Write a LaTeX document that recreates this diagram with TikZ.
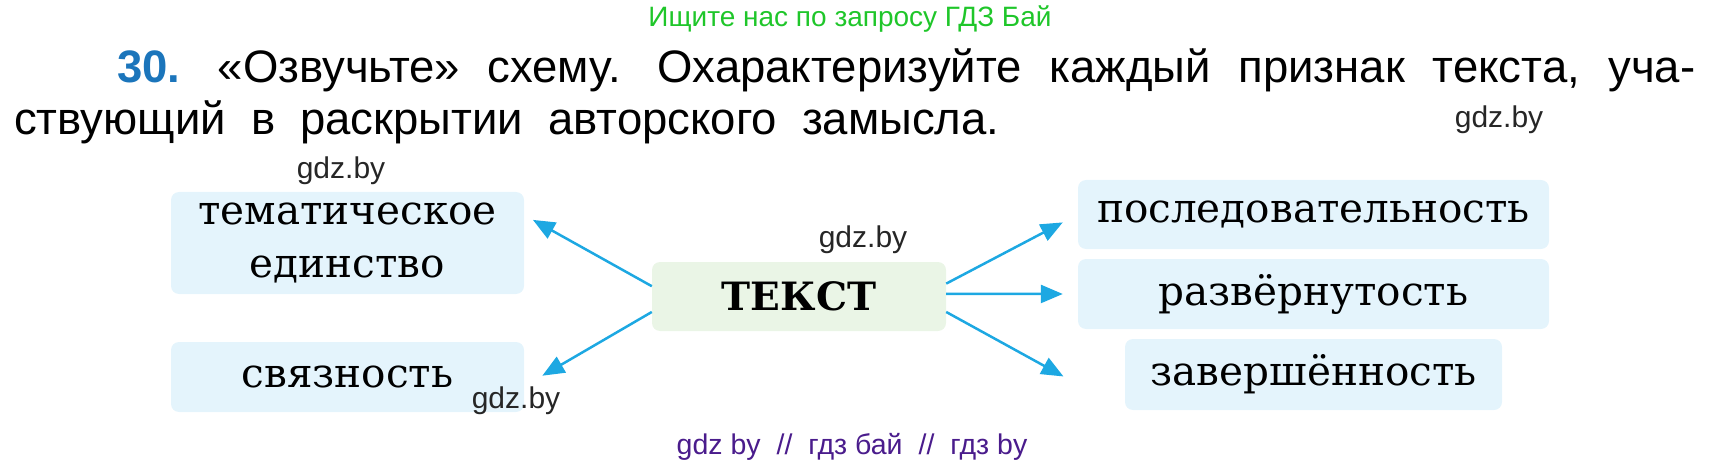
\documentclass[tikz,border=0pt]{standalone}
\usepackage{fontspec}
\setmainfont{DejaVu Serif}
\newfontfamily\headfont{Liberation Sans}
\usepackage{tikz}
\usetikzlibrary{arrows.meta}
\definecolor{boxblue}{HTML}{E4F4FC}
\definecolor{boxgreen}{HTML}{EAF5E6}
\definecolor{arrowblue}{HTML}{1DA8E2}
\definecolor{numblue}{HTML}{1B75BB}
\definecolor{adgreen}{HTML}{1FC62A}
\definecolor{adpurple}{HTML}{4A1C8C}
\newcommand{\widespaces}{\spaceskip=25pt plus 40pt\relax}

\begin{document}
\begin{tikzpicture}[x=1pt,y=-1pt]
\tikzstyle{box}=[fill=boxblue, rounded corners=8pt, inner sep=0pt, align=center, font=\fontsize{40.5}{54}\selectfont]
\tikzstyle{arr}=[color=arrowblue, line width=2.5pt, -{Triangle[length=22pt,width=18pt]}]
\tikzstyle{wmark}=[inner sep=0pt, text=black!85, font=\headfont\fontsize{30}{32}\selectfont]
\tikzstyle{heading}=[inner sep=0pt, anchor=base west, font=\headfont\fontsize{45.5}{48}\selectfont\widespaces]

\useasboundingbox (0,0) rectangle (1709,468);

% top and bottom lines
\node[inner sep=0pt, anchor=base, text=adgreen, font=\headfont\fontsize{28}{30}\selectfont] (ad) at (850,27) {Ищите нас по запросу ГДЗ Бай};
\node[inner sep=0pt, anchor=base, text=adpurple, font=\headfont\fontsize{28.5}{30}\selectfont] (foot) at (852,454) {gdz by\hspace{16pt}//\hspace{16pt}гдз бай\hspace{16pt}//\hspace{16pt}гдз by};

% task
\node[heading] (line1) at (117,83) {\makebox[1578pt][s]{\textcolor{numblue}{\textbf{30.}} «Озвучьте» схему. Охарактеризуйте каждый признак текста, уча-}};
\node[heading] (line2) at (14,135) {ствующий в раскрытии авторского замысла.};

% scheme
\node[box, minimum width=353pt, minimum height=102pt] (tema) at (347.5,243) {тематическое\\единство};
\node[box, minimum width=353pt, minimum height=70pt] (svyaz) at (347.5,377) {связность};
\node[box, fill=boxgreen, minimum width=294pt, minimum height=69pt, font=\bfseries\fontsize{39}{44}\selectfont] (tekst) at (799,296.5) {ТЕКСТ};
\node[box, minimum width=471pt, minimum height=69pt] (posl) at (1313.5,214.5) {последовательность};
\node[box, minimum width=471pt, minimum height=70pt] (razv) at (1313.5,294) {развёрнутость};
\node[box, minimum width=377pt, minimum height=71pt] (zaver) at (1313.5,374.5) {завершённость};

\path (tekst.176) edge[arr, shorten >=10pt] (tema.9)
      (tekst.186) edge[arr, shorten >=21pt] (svyaz.357)
      (tekst.5)   edge[arr, shorten >=17pt] (posl.west)
      (tekst.1)   edge[arr, shorten >=15pt] (razv.west)
      (tekst.354) edge[arr, shorten >=70pt] (zaver.south west);

% watermarks
\node[wmark] (w1) at (1499,120) {gdz.by};
\node[wmark] (w2) at (341,171) {gdz.by};
\node[wmark] (w3) at (863,240) {gdz.by};
\node[wmark] (w4) at (516,401) {gdz.by};

\end{tikzpicture}
\end{document}
